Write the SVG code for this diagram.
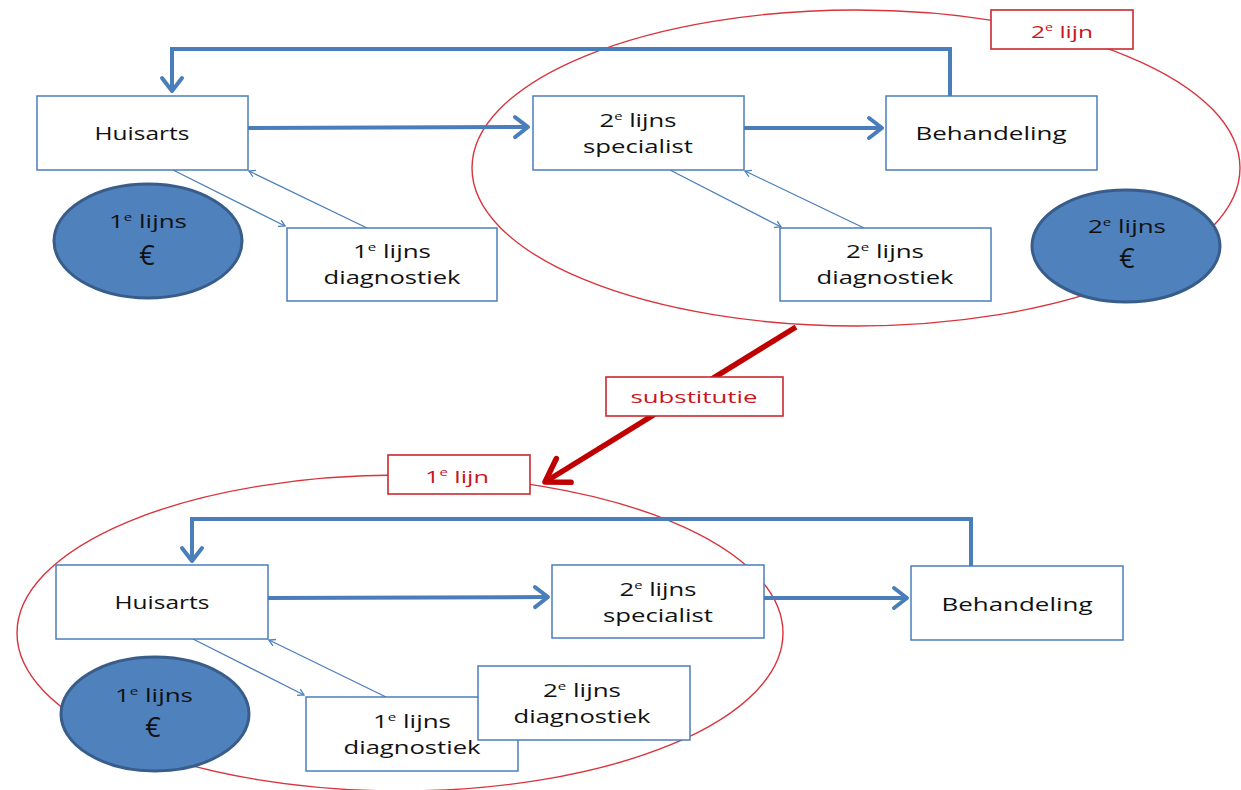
<svg xmlns="http://www.w3.org/2000/svg" width="1241" height="790" viewBox="0 0 1241 790">
<style>
.box{fill:#fff;stroke:#4a7ebb;stroke-width:1.5}
.t{font-family:"Open Sans","Liberation Sans",sans-serif;font-size:19px;fill:#111;text-anchor:middle}
.eur{font-family:"Open Sans","Liberation Sans",sans-serif;font-size:27px;fill:#111;text-anchor:middle}
.money{fill:#4f81bd;stroke:#385d8a;stroke-width:3}
.zone{fill:none;stroke:#d8343c;stroke-width:1.4}
.lbl{fill:#fff;stroke:#c8282e;stroke-width:1.6}
.rt{font-family:"Open Sans","Liberation Sans",sans-serif;font-size:17px;fill:#c8161e;text-anchor:middle}
.thick{fill:none;stroke:#4a7ebb;stroke-width:4}
.thin{fill:none;stroke:#4a7ebb;stroke-width:1.3}
.red{fill:none;stroke:#c00000;stroke-width:5.5}
</style>
<defs>
<marker id="aBig" markerUnits="userSpaceOnUse" viewBox="-18 -14 22 28" markerWidth="22" markerHeight="28" refX="0" refY="0" orient="auto" overflow="visible">
<path d="M-13,-10 L0,0 L-13,10" fill="none" stroke="#4a7ebb" stroke-width="4" stroke-linecap="round" stroke-linejoin="round"/>
</marker>
<marker id="aThin" markerUnits="userSpaceOnUse" viewBox="-9 -6 11 12" markerWidth="11" markerHeight="12" refX="0" refY="0" orient="auto" overflow="visible">
<path d="M-6,-3.5 L0,0 L-6,3.5" fill="none" stroke="#4a7ebb" stroke-width="1.3"/>
</marker>
<marker id="aRed" markerUnits="userSpaceOnUse" viewBox="-28 -20 32 40" markerWidth="32" markerHeight="40" refX="0" refY="0" orient="auto" overflow="visible">
<path d="M-22,-14 L0,0 L-22,14" fill="none" stroke="#c00000" stroke-width="5.5" stroke-linecap="round" stroke-linejoin="round"/>
</marker>
</defs>

<g id="zones">
<ellipse class="zone" cx="856" cy="168" rx="384" ry="158"/>
<ellipse class="zone" cx="400" cy="633" rx="383" ry="158"/>
</g>

<g id="connectors">
<!-- top -->
<path class="thick" d="M950,96 V49 H172 V91" marker-end="url(#aBig)"/>
<line class="thick" x1="248" y1="128" x2="528" y2="127" marker-end="url(#aBig)"/>
<line class="thick" x1="744" y1="128" x2="882" y2="128" marker-end="url(#aBig)"/>
<line class="thin" x1="173" y1="170" x2="285" y2="226" marker-end="url(#aThin)"/>
<line class="thin" x1="367" y1="228" x2="249" y2="171" marker-end="url(#aThin)"/>
<line class="thin" x1="670" y1="170" x2="781" y2="227" marker-end="url(#aThin)"/>
<line class="thin" x1="864" y1="228" x2="745" y2="171" marker-end="url(#aThin)"/>
<!-- substitution -->
<line class="red" x1="796" y1="327" x2="545" y2="482" marker-end="url(#aRed)"/>
<!-- bottom -->
<path class="thick" d="M971,566 V519 H192 V561" marker-end="url(#aBig)"/>
<line class="thick" x1="268" y1="598" x2="548" y2="597" marker-end="url(#aBig)"/>
<line class="thick" x1="764" y1="598" x2="907" y2="598" marker-end="url(#aBig)"/>
<line class="thin" x1="193" y1="639" x2="304" y2="695" marker-end="url(#aThin)"/>
<line class="thin" x1="386" y1="697" x2="269" y2="640" marker-end="url(#aThin)"/>
</g>

<g id="labels">
<g id="lbl-2e-lijn">
<rect class="lbl" x="991" y="10" width="142" height="39"/>
<text class="rt" x="1062" y="38" textLength="62" lengthAdjust="spacingAndGlyphs">2<tspan font-size="10" dy="-7">e</tspan><tspan dy="7"> lijn</tspan></text>
</g>
<g id="lbl-substitutie">
<rect class="lbl" x="606" y="377" width="177" height="39"/>
<text class="rt" x="694" y="403" textLength="127" lengthAdjust="spacingAndGlyphs">substitutie</text>
</g>
<g id="lbl-1e-lijn">
<rect class="lbl" x="388" y="455" width="142" height="39"/>
<text class="rt" x="457" y="483" textLength="64" lengthAdjust="spacingAndGlyphs">1<tspan font-size="10" dy="-7">e</tspan><tspan dy="7"> lijn</tspan></text>
</g>
</g>

<!-- TOP SECTION -->
<g id="top-huisarts">
<rect class="box" x="37" y="96" width="211" height="74"/>
<text class="t" x="142" y="140" textLength="95" lengthAdjust="spacingAndGlyphs">Huisarts</text>
</g>
<g id="top-specialist">
<rect class="box" x="533" y="96" width="211" height="74"/>
<text class="t" x="638" y="127" textLength="77" lengthAdjust="spacingAndGlyphs">2<tspan font-size="11" dy="-7">e</tspan><tspan dy="7"> lijns</tspan></text>
<text class="t" x="638" y="153" textLength="110" lengthAdjust="spacingAndGlyphs">specialist</text>
</g>
<g id="top-behandeling">
<rect class="box" x="886" y="96" width="211" height="74"/>
<text class="t" x="991" y="140" textLength="151" lengthAdjust="spacingAndGlyphs">Behandeling</text>
</g>
<g id="top-diag1">
<rect class="box" x="287" y="228" width="210" height="73"/>
<text class="t" x="392" y="258" textLength="78" lengthAdjust="spacingAndGlyphs">1<tspan font-size="11" dy="-7">e</tspan><tspan dy="7"> lijns</tspan></text>
<text class="t" x="392" y="284" textLength="137" lengthAdjust="spacingAndGlyphs">diagnostiek</text>
</g>
<g id="top-diag2">
<rect class="box" x="780" y="228" width="211" height="73"/>
<text class="t" x="885" y="258" textLength="78" lengthAdjust="spacingAndGlyphs">2<tspan font-size="11" dy="-7">e</tspan><tspan dy="7"> lijns</tspan></text>
<text class="t" x="885" y="284" textLength="137" lengthAdjust="spacingAndGlyphs">diagnostiek</text>
</g>
<g id="top-money1">
<ellipse class="money" cx="148" cy="241" rx="94" ry="57"/>
<text class="t" x="148" y="228" textLength="78" lengthAdjust="spacingAndGlyphs">1<tspan font-size="11" dy="-7">e</tspan><tspan dy="7"> lijns</tspan></text>
<text class="eur" x="147" y="265">€</text>
</g>
<g id="top-money2">
<ellipse class="money" cx="1126" cy="246" rx="94" ry="56"/>
<text class="t" x="1127" y="233" textLength="78" lengthAdjust="spacingAndGlyphs">2<tspan font-size="11" dy="-7">e</tspan><tspan dy="7"> lijns</tspan></text>
<text class="eur" x="1127" y="268">€</text>
</g>

<!-- BOTTOM SECTION -->
<g id="bot-huisarts">
<rect class="box" x="56" y="565" width="212" height="74"/>
<text class="t" x="162" y="609" textLength="95" lengthAdjust="spacingAndGlyphs">Huisarts</text>
</g>
<g id="bot-specialist">
<rect class="box" x="552" y="565" width="212" height="73"/>
<text class="t" x="658" y="596" textLength="77" lengthAdjust="spacingAndGlyphs">2<tspan font-size="11" dy="-7">e</tspan><tspan dy="7"> lijns</tspan></text>
<text class="t" x="658" y="622" textLength="110" lengthAdjust="spacingAndGlyphs">specialist</text>
</g>
<g id="bot-behandeling">
<rect class="box" x="911" y="566" width="212" height="74"/>
<text class="t" x="1017" y="611" textLength="151" lengthAdjust="spacingAndGlyphs">Behandeling</text>
</g>
<g id="bot-diag1">
<rect class="box" x="306" y="697" width="212" height="74"/>
<text class="t" x="412" y="728" textLength="78" lengthAdjust="spacingAndGlyphs">1<tspan font-size="11" dy="-7">e</tspan><tspan dy="7"> lijns</tspan></text>
<text class="t" x="412" y="754" textLength="137" lengthAdjust="spacingAndGlyphs">diagnostiek</text>
</g>
<g id="bot-diag2">
<rect class="box" x="478" y="666" width="212" height="74"/>
<text class="t" x="582" y="697" textLength="78" lengthAdjust="spacingAndGlyphs">2<tspan font-size="11" dy="-7">e</tspan><tspan dy="7"> lijns</tspan></text>
<text class="t" x="582" y="723" textLength="137" lengthAdjust="spacingAndGlyphs">diagnostiek</text>
</g>
<g id="bot-money1">
<ellipse class="money" cx="155" cy="714" rx="94" ry="57"/>
<text class="t" x="154" y="702" textLength="78" lengthAdjust="spacingAndGlyphs">1<tspan font-size="11" dy="-7">e</tspan><tspan dy="7"> lijns</tspan></text>
<text class="eur" x="153" y="737">€</text>
</g>
</svg>
